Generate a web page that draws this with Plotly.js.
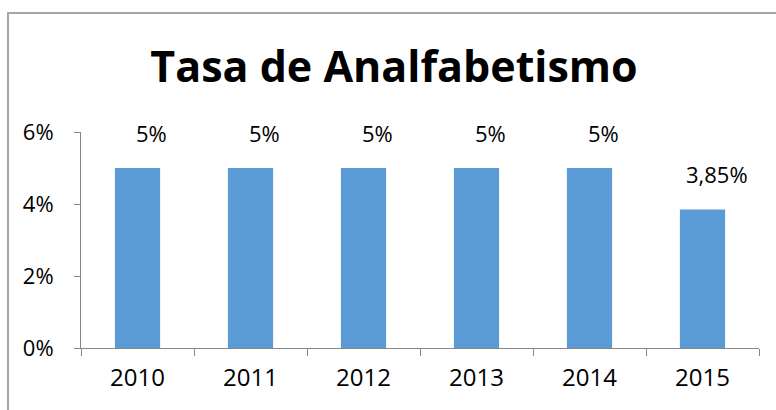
<!DOCTYPE html>
<html>
<head>
<meta charset="utf-8">
<script src="https://cdn.plot.ly/plotly-3.0.1.min.js"></script>
<style>
  html, body { margin: 0; padding: 0; background: #ffffff; }
  #frame { position: absolute; left: 7px; top: 12px; width: 900px; height: 500px;
           border-left: 2px solid #a6a6a6; border-top: 2px solid #a6a6a6; }
  #chart { position: absolute; left: 0; top: 0; width: 776px; height: 410px; }
</style>
</head>
<body>
<div id="frame"></div>
<div id="chart"></div>
<script>
const years = ['2010', '2011', '2012', '2013', '2014', '2015'];
const rates = [5, 5, 5, 5, 5, 3.85];
const yTicks = [0, 2, 4, 6];

const fmt = v => String(v).replace('.', ',') + '%';

const font = "'Open Sans', 'DejaVu Sans', sans-serif";

const trace = {
  type: 'bar',
  x: years,
  y: rates,
  width: 0.4,
  marker: { color: '#5b9bd5', line: { width: 0 } },
  hoverinfo: 'x+y'
};

// category axis: annotation x is the category index
const annotations = years.map((yr, i) => ({
  x: i, y: rates[i], xref: 'x', yref: 'y',
  text: fmt(rates[i]),
  showarrow: false,
  xanchor: 'center', yanchor: 'bottom',
  xshift: 14, yshift: 18,
  font: { family: font, size: 22, color: '#000000' }
}));

const layout = {
  width: 776, height: 410,
  autosize: false,
  paper_bgcolor: 'rgba(0,0,0,0)',
  plot_bgcolor: 'rgba(0,0,0,0)',
  margin: { l: 81, r: 17, t: 132, b: 62, pad: 0 },
  separators: ',.',
  showlegend: false,
  title: {
    text: '<b>Tasa de Analfabetismo</b>',
    font: { family: font, size: 43, color: '#000000' },
    xref: 'container', yref: 'container',
    x: 394 / 776, xanchor: 'center',
    y: 1 - 67 / 410, yanchor: 'middle'
  },
  xaxis: {
    type: 'category',
    categoryorder: 'array', categoryarray: years,
    range: [-0.5, years.length - 0.5],
    tickson: 'boundaries',
    ticks: 'outside', ticklen: 7, tickcolor: '#868686', tickwidth: 1,
    showline: true, linecolor: '#868686', linewidth: 1,
    showgrid: false, zeroline: false,
    tickangle: 0,
    tickfont: { family: font, size: 24, color: '#000000' },
    ticklabelstandoff: 8
  },
  yaxis: {
    range: [0, 6],
    tickvals: yTicks,
    ticktext: yTicks.map(v => v + '%'),
    ticks: 'outside', ticklen: 6, tickcolor: '#868686', tickwidth: 1,
    showline: true, linecolor: '#868686', linewidth: 1,
    showgrid: false, zeroline: false,
    tickfont: { family: font, size: 22, color: '#000000' },
    ticklabelstandoff: 16
  },
  annotations: annotations
};

Plotly.newPlot('chart', [trace], layout, { displayModeBar: false, staticPlot: true });
</script>
</body>
</html>
